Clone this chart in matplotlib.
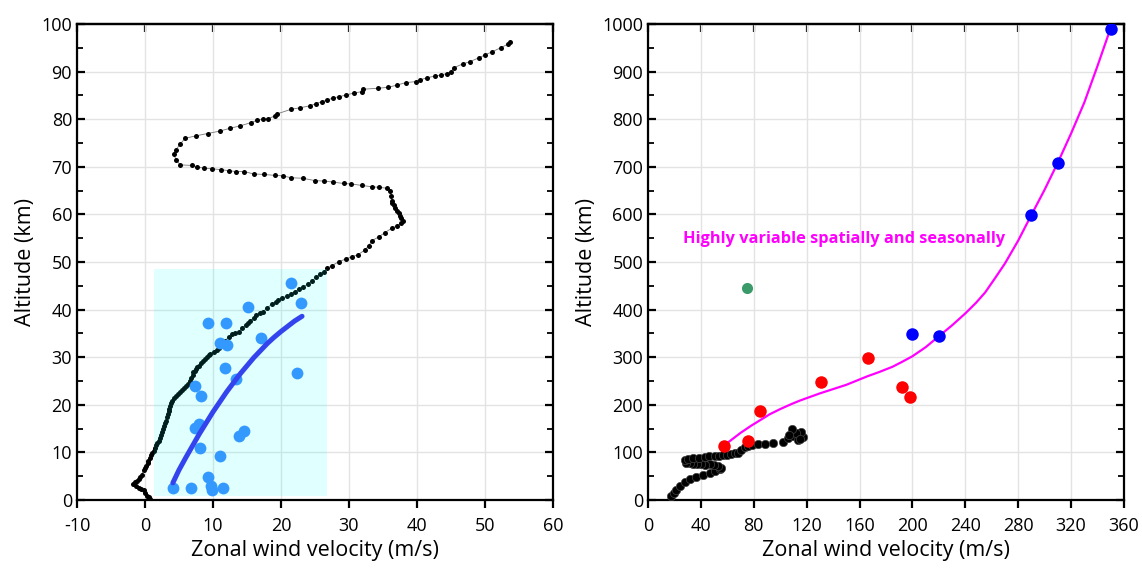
import numpy as np
import matplotlib
matplotlib.use('Agg')
import matplotlib.pyplot as plt
from matplotlib.patches import Rectangle
from matplotlib.ticker import MultipleLocator

plt.rcParams['font.family'] = ['Open Sans', 'DejaVu Sans']
plt.rcParams['axes.unicode_minus'] = False

# left panel: measured profile (zonal wind m/s, altitude km)
profile_u = [0.8, 0.6, 0.3, 0.0, -0.2, -0.6, -0.9, -1.3, -1.7, -1.4, -1.2, -0.9, -0.7, -0.5, -0.2,
             0.0, 0.2, 0.4, 0.5, 0.7, 0.9, 1.1, 1.3, 1.5, 1.6, 1.8, 2.0, 2.2, 2.3, 2.5, 2.7,
             2.8, 2.9, 3.1, 3.2, 3.4, 3.5, 3.6, 3.7, 3.9, 4.0, 4.3, 4.6, 4.9, 5.2, 5.5, 5.8,
             6.1, 6.4, 6.6, 6.8, 7.0, 7.1, 7.3, 7.5, 7.7, 7.9, 8.3, 8.6, 8.9, 9.1, 9.4, 9.6,
             10.1, 10.6, 10.9, 11.2, 11.5, 11.8, 12.3, 12.8, 13.3, 13.8, 14.3, 14.8, 15.1,
             15.5, 16.0, 16.4, 16.9, 17.4, 18.0, 18.7, 19.2, 19.6, 20.2, 20.9, 21.5, 22.1,
             22.7, 23.3, 24.0, 24.6, 25.2, 25.8, 26.3, 26.8, 27.5, 28.5, 29.5, 30.4,
             31.3, 32.3, 32.9, 33.4, 34.4, 35.3, 36.3, 37.1, 37.6, 37.9, 37.7, 37.5, 37.3,
             37.1, 36.8, 36.6, 36.4, 36.3, 36.2, 36.1, 35.6, 34.4, 33.4, 31.9, 30.3, 29.2,
             27.6, 26.4, 25.0, 23.2, 21.5, 20.3, 19.1, 17.5, 16.0, 14.6, 13.4, 12.3, 11.2,
             9.8, 8.7, 7.6, 6.9, 5.2, 4.6, 4.2, 4.5, 5.2, 5.9, 7.5, 9.2, 11.0, 12.5, 14.0,
             15.6, 16.5, 17.4, 18.1, 19.1, 19.4, 21.5, 22.8, 24.2, 25.2, 26.0, 26.8, 27.7,
             28.5, 29.6, 30.7, 31.9, 32.1, 34.2, 35.8, 37.1, 38.4, 39.8, 40.5, 41.5, 42.7,
             43.6, 44.4, 45.0, 45.4, 46.7, 47.8, 49.1, 50.0, 51.1, 52.3, 53.4, 53.7]
profile_z = [0.2, 0.6, 0.9, 1.5, 2.0, 2.3, 2.6, 3.0, 3.4, 3.7, 3.9, 4.4, 4.8, 5.3, 6.2,
             6.7, 7.2, 7.8, 8.3, 8.9, 9.4, 9.9, 10.4, 11.0, 11.5, 12.0, 12.5, 13.1, 13.7, 14.3,
             14.9, 15.5, 16.1, 16.7, 17.4, 18.0, 18.6, 19.2, 19.8, 20.4, 20.9, 21.4, 21.8,
             22.2, 22.6, 23.1, 23.5, 24.0, 24.4, 25.0, 25.6, 26.2, 26.8, 27.1, 27.5, 27.9,
             28.2, 28.8, 29.3, 29.7, 30.0, 30.4, 30.7, 31.1, 31.5, 32.0, 32.5, 33.0, 33.5,
             34.2, 34.9, 35.1, 35.4, 36.1, 36.8, 37.2, 37.7, 38.3, 38.9, 39.2, 39.6, 40.4,
             41.2, 41.6, 42.0, 42.4, 42.9, 43.3, 43.8, 44.3, 44.8, 45.4, 46.1, 46.8, 47.5,
             47.8, 48.7, 49.2, 50.1, 50.6, 51.1, 51.5, 52.5, 53.4, 54.5, 55.3, 56.2, 57.1,
             57.6, 58.1, 58.7, 59.2, 59.7, 60.3, 60.8, 61.4, 62.0, 62.5, 62.9, 63.9, 65.0,
             65.5, 65.7, 65.8, 66.1, 66.4, 66.5, 66.8, 67.0, 67.1, 67.6, 67.7, 68.1, 68.2,
             68.4, 68.5, 69.0, 69.0, 69.2, 69.4, 69.6, 69.7, 70.0, 70.3, 70.4, 71.4, 72.7,
             73.5, 74.8, 76.0, 76.5, 77.0, 77.5, 78.1, 78.6, 79.3, 79.8, 80.0, 80.1, 80.7,
             81.1, 82.1, 82.4, 82.8, 83.3, 83.7, 84.0, 84.5, 84.7, 85.1, 85.5, 85.8, 86.3,
             86.5, 86.7, 87.2, 87.7, 87.9, 88.3, 88.7, 89.1, 89.3, 89.6, 90.0, 90.8, 91.6,
             92.1, 92.9, 93.5, 94.2, 95.0, 95.8, 96.2]

# left panel: scattered observations and trend
obs_u = [21.5, 22.9, 15.2, 9.2, 11.9, 17.0, 11.0, 12.1, 11.7, 22.4, 13.4, 7.35, 8.3, 7.9, 7.4,
         14.5, 13.9, 8.1, 11.0, 9.2, 9.7, 9.8, 4.1, 6.8, 11.5]
obs_z = [45.5, 41.4, 40.5, 37.2, 37.2, 34.0, 32.9, 32.6, 27.8, 26.7, 25.4, 24.0, 21.9, 16.0, 15.1,
         14.4, 13.5, 11.0, 9.2, 4.8, 3.0, 2.1, 2.5, 2.5, 2.5]
trend_u = [4.1, 5, 6, 7, 8, 9, 10, 11, 12, 13, 14, 15, 16, 17, 18, 19, 20, 21, 22, 23.1]
trend_z = [3.6, 6.3, 8.9, 11.4, 13.9, 16.2, 18.5, 20.6, 22.7, 24.6, 26.5, 28.2, 29.9,
           31.4, 32.9, 34.2, 35.4, 36.5, 37.6, 38.6]
box_u = [1.3, 26.8]
box_z = [0.9, 48.5]

# right panel
low_u = [17.7, 19.5, 21.5, 24.0, 27.8, 32.0, 36.6, 41.5, 46.7, 50.5, 54.3, 55.0, 53.0, 50.0,
         46.7, 43.5, 40.4, 37.0, 34.1, 31.5, 29.1, 27.8, 30.5, 34.1, 38.5, 42.9, 46.5, 50.5,
         53.5, 56.8, 60.0, 63.1, 66.0, 68.1, 70.7, 73.2, 75.5, 79.0, 83.2, 88.3, 94.6, 102.2,
         106.0, 109.7, 113.5, 117.3, 116.1, 112.3, 109.3, 106.5, 115.0]
low_z = [8.4, 15.0, 21.0, 29.4, 38.5, 44.0, 49.0, 53.0, 57.4, 61.0, 64.5, 67.0, 71.5, 73.5,
         75.0, 74.0, 75.0, 76.0, 75.7, 77.5, 78.4, 84.1, 86.0, 87.6, 88.5, 89.7, 91.5, 93.1,
         93.5, 94.6, 95.5, 96.7, 98.0, 99.5, 105.1, 110.8, 114.0, 115.5, 117.1, 118.4, 119.2,
         121.3, 129.7, 134.5, 126.1, 133.1, 143.6, 140.2, 149.3, 136.0, 128.0]
red_u = [57.2, 75.6, 84.4, 130.9, 166.3, 191.9, 198.2]
red_z = [113.8, 124.3, 186.1, 247.9, 299.2, 238.1, 217.0]
blue_u = [199.8, 220.1, 290.0, 310.0, 349.9]
blue_z = [348.3, 344.1, 598.7, 708.7, 989.5]
green_u = [74.8]
green_z = [445.9]
fit_u = [57, 62, 70, 78, 85, 92, 100, 108, 115, 122, 130, 140, 150, 158, 166, 175, 185, 192,
         200, 210, 220, 230, 240, 248, 255, 262, 270, 280, 290, 300, 310, 320, 330, 340, 349]
fit_z = [114, 124, 141, 156, 168, 180, 191, 201, 209, 216, 224, 233, 242, 251, 260, 269, 280,
         290, 302, 321, 344, 367, 392, 414, 436, 464, 497, 545, 599, 652, 709, 770, 835, 912, 984]

fig = plt.figure(figsize=(11.42, 5.68), dpi=100)
ax1 = fig.add_axes([0.0674, 0.1197, 0.4168, 0.838])
ax2 = fig.add_axes([0.5674, 0.1197, 0.4168, 0.838])


def style(ax, xmaj, ymaj, ymin):
    ax.xaxis.set_major_locator(MultipleLocator(xmaj))
    ax.yaxis.set_major_locator(MultipleLocator(ymaj))
    ax.yaxis.set_minor_locator(MultipleLocator(ymin))
    ax.grid(True, which='major', color='#e3e3e3', lw=1)
    ax.set_axisbelow(True)
    for s in ax.spines.values():
        s.set_linewidth(1.6)
    ax.tick_params(axis='x', direction='out', length=6, width=1.6, labelsize=13, pad=6)
    ax.tick_params(axis='y', which='major', direction='in', length=6, width=1.6,
                   left=True, right=True, labelsize=13)
    ax.tick_params(axis='y', which='minor', direction='in', length=4, width=1.3,
                   left=True, right=True)
    top = ax.secondary_xaxis('top')
    top.xaxis.set_major_locator(MultipleLocator(xmaj))
    top.tick_params(direction='in', length=6, width=1.6, labeltop=False)
    top.spines['top'].set_linewidth(1.6)
    ax.set_xlabel('Zonal wind velocity (m/s)', fontsize=15.5)
    ax.set_ylabel('Altitude (km)', fontsize=15.5)


# left panel
ax1.plot(profile_u, profile_z, '-', color='#777777', lw=0.6, zorder=2)
ax1.plot(profile_u, profile_z, 'o', color='black', ms=3.6, mec='none', zorder=2)
ax1.add_patch(Rectangle((box_u[0], box_z[0]), box_u[1] - box_u[0], box_z[1] - box_z[0],
                        facecolor='#00ffff', alpha=0.12, edgecolor='none', zorder=3))
ax1.plot(obs_u, obs_z, 'o', color='#3399ff', ms=8.5, mec='none', zorder=4)
ax1.plot(trend_u, trend_z, '-', color='#3344ee', lw=3.6, solid_capstyle='round', zorder=5)
ax1.set_xlim(-10, 60)
ax1.set_ylim(0, 100)
style(ax1, 10, 10, 5)

# right panel
ax2.plot(low_u, low_z, 'o', color='black', ms=6, mec='#444444', mew=0.5, zorder=3)
ax2.plot(fit_u, fit_z, '-', color='#ff00ff', lw=1.6, zorder=4)
ax2.plot(red_u, red_z, 'o', color='#ff0000', ms=9, mec='none', zorder=5)
ax2.plot(blue_u, blue_z, 'o', color='#0000ff', ms=9, mec='none', zorder=5)
ax2.plot(green_u, green_z, 'o', color='#3a9a6a', ms=8, mec='none', zorder=5)
ax2.text(26.6, 548, 'Highly variable spatially and seasonally', color='#ff00ff',
         fontsize=11.8, fontweight='bold', va='center', ha='left')
ax2.set_xlim(0, 360)
ax2.set_ylim(0, 1000)
style(ax2, 40, 100, 50)

fig.savefig('out.png', dpi=100)
